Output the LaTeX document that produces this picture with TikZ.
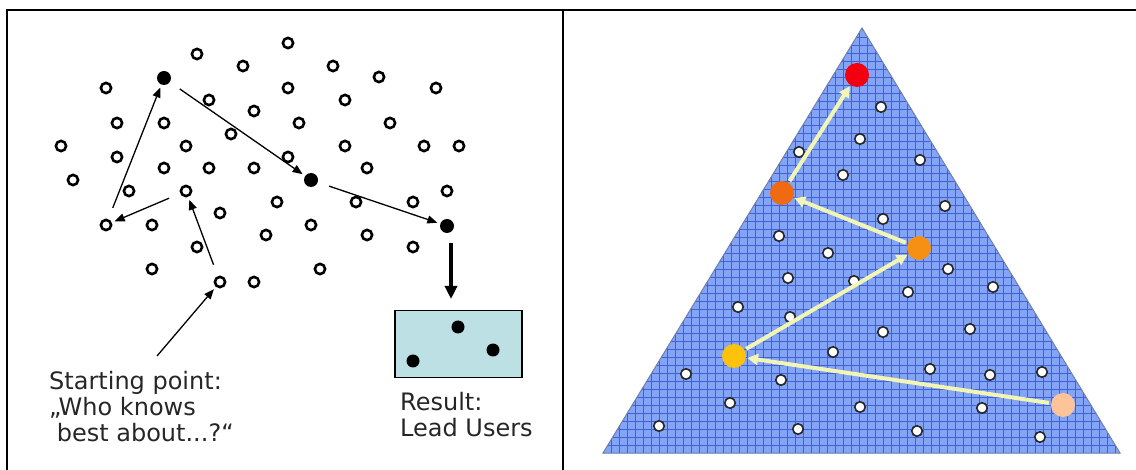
\documentclass[tikz,border=0pt]{standalone}
\usepackage{fontspec}
\setmainfont{DejaVu Sans}
\usetikzlibrary{arrows.meta}
\definecolor{boxfill}{HTML}{BCE0E3}
\definecolor{trifill}{HTML}{84A4F6}
\definecolor{gridc}{HTML}{3F5FDC}
\definecolor{triedge}{HTML}{7080A8}
\definecolor{arrowy}{HTML}{F2F6B4}
\definecolor{dred}{HTML}{F20010}
\definecolor{dorangeA}{HTML}{F06A12}
\definecolor{dorangeB}{HTML}{F59014}
\definecolor{dyellow}{HTML}{FFC20A}
\definecolor{dpeach}{HTML}{FFC39A}
\begin{document}
\begin{tikzpicture}[x=1pt,y=-1pt,
  oc/.style={circle,draw=black,line width=2.6pt,minimum size=10.2pt,inner sep=0pt},
  fd/.style={circle,fill=black,minimum size=14pt,inner sep=0pt},
  bd/.style={circle,fill=black,minimum size=13pt,inner sep=0pt},
  wd/.style={circle,fill=white,draw=black!85,line width=1.6pt,minimum size=10.5pt,inner sep=0pt},
  cd/.style={circle,minimum size=24pt,inner sep=0pt},
  blk/.style={-{Triangle[length=10pt,width=8pt]},line width=1.3pt,shorten <=12pt,shorten >=3pt},
  yarr/.style={-{Triangle[length=11pt,width=11pt]},line width=4pt,color=arrowy,shorten <=2pt,shorten >=1pt},
  frame/.style={line width=2.5pt,line cap=rect},
  lbl/.style={anchor=base west,inner sep=0pt,text=black!85,font=\fontsize{24}{27}\selectfont}]
\useasboundingbox (0,0) rectangle (1136,470);
% frame
\draw[frame] (7,470) -- (7,10) -- (1136,10);
\draw[frame] (563,10) -- (563,470);
% ---------- left panel ----------
\foreach \x/\y [count=\i] in {288/43,197/54,243/66,333/66,379/77,436/88,106/88,288/88,209/100,345/100,254/111,117/123,164/123,299/123,390/123,231/134,61/146,186/146,345/146,424/146,459/146,117/157,288/157,73/180,164/168,209/168,254/168,367/168,129/191,447/191,277/202,356/202,413/202,220/213,152/225,311/225,266/235,367/235,197/247,413/247,152/269,320/269,254/282}
  \node[oc] (c\i) at (\x,\y) {};
\node[oc] (a) at (186,191) {};
\node[oc] (b) at (106,225) {};
\node[oc] (s) at (220,282) {};
\node[fd] (f1) at (164,78) {};
\node[fd] (f2) at (311,180) {};
\node[fd] (f3) at (447,226) {};
\coordinate (ts) at (157,356);
\draw[blk,shorten <=0pt] (ts) -- (s);
\draw[blk] (s) -- (a);
\draw[blk] (a) -- (b);
\draw[blk] (b) -- (f1);
\draw[blk] (f1) -- (f2);
\draw[blk] (f2) -- (f3);
\coordinate (d1) at (451,243);
\coordinate (d2) at (451,299);
\draw[-{Triangle[length=13pt,width=12pt]},line width=3.5pt] (d1) -- (d2);
\node[draw=black,fill=boxfill,line width=1.3pt,minimum width=127pt,minimum height=67pt,inner sep=0pt] (res) at (458.5,344) {};
\node[bd] (r1) at (458,327) {};
\node[bd] (r2) at (413,361) {};
\node[bd] (r3) at (493,350) {};
\node[lbl] (t1) at (49,390) {Starting point:};
\node[lbl] (t2) at (49,416) {„Who knows};
\node[lbl] (t3) at (49,442) {\ best about...?“};
\node[lbl] (t4) at (400,410) {Result:};
\node[lbl] (t5) at (400,436) {Lead Users};
% ---------- right panel ----------
\begin{scope}
  \clip (603,453) -- (862,28) -- (1120,453) -- cycle;
  \fill[trifill] (598,20) rectangle (1126,460);
  \foreach \i in {0,...,65} \draw[gridc,line width=0.7pt] ({603+8*\i},20) -- ({603+8*\i},460);
  \foreach \j in {0,...,54} \draw[gridc,line width=0.7pt] (598,{453-8*\j}) -- (1126,{453-8*\j});
\end{scope}
\draw[triedge,line width=1pt] (603,453) -- (862,28) -- (1120,453) -- cycle;
\foreach \x/\y [count=\i] in {881/107,860/139,799/152,920/160,843/175,945/206,883/219,779/236,828/253,948/269,788/278,854/281,908/292,993/287,738/307,790/317,883/332,970/329,833/352,686/374,781/380,930/369,990/375,1042/372,730/403,860/407,982/408,659/426,798/429,917/431,1040/437}
  \node[wd] (w\i) at (\x,\y) {};
\node[cd,fill=dred] (red) at (857,75) {};
\node[cd,fill=dorangeA] (oa) at (782,193) {};
\node[cd,fill=dorangeB] (ob) at (919,248) {};
\node[cd,fill=dyellow] (yl) at (734,356) {};
\node[cd,fill=dpeach] (pe) at (1063,405) {};
\draw[yarr] (pe) -- (yl);
\draw[yarr] (yl) -- (ob);
\draw[yarr] (ob) -- (oa);
\draw[yarr] (oa) -- (red);
\end{tikzpicture}
\end{document}
